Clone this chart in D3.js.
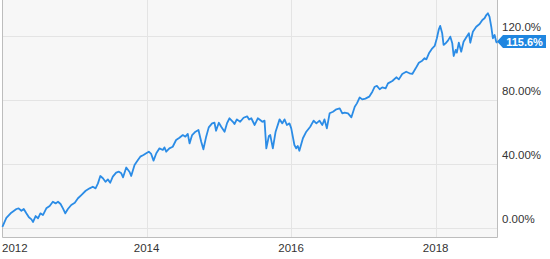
<!DOCTYPE html>
<html>
<head>
<meta charset="utf-8">
<script src="https://cdn.jsdelivr.net/npm/d3@7"></script>
<style>
  body { margin: 0; background: #fff; }
  svg { display: block; }
</style>
</head>
<body>
<div id="chart"></div>
<script>
// Datas (semanais aproximadas) e retorno acumulado em %
var dates = [
  "2012-01-03","2012-01-23","2012-02-17","2012-03-14","2012-03-25","2012-04-08","2012-04-20","2012-05-03",
  "2012-05-16","2012-05-29","2012-06-06","2012-06-19","2012-07-01","2012-07-13","2012-07-26","2012-08-12",
  "2012-08-29","2012-09-14","2012-09-28","2012-10-10","2012-10-23","2012-11-04","2012-11-16","2012-11-29",
  "2012-12-16","2013-01-03","2013-01-19","2013-02-05","2013-02-27","2013-03-19","2013-04-04","2013-04-18",
  "2013-04-30","2013-05-12","2013-05-25","2013-06-07","2013-06-19","2013-07-01","2013-07-14","2013-07-31",
  "2013-08-14","2013-08-26","2013-09-04","2013-09-20","2013-10-07","2013-10-15","2013-11-01","2013-11-18",
  "2013-11-30","2013-12-16","2013-12-30","2014-01-12","2014-01-24","2014-02-05","2014-02-19","2014-03-07",
  "2014-03-24","2014-04-01","2014-04-10","2014-04-26","2014-05-13","2014-05-30","2014-06-16","2014-07-03",
  "2014-07-16","2014-07-28","2014-08-06","2014-08-19","2014-09-05","2014-09-20","2014-10-04","2014-10-15",
  "2014-10-29","2014-11-11","2014-11-28","2014-12-10","2014-12-18","2015-01-01","2015-01-13","2015-01-30",
  "2015-02-11","2015-02-24","2015-03-13","2015-03-21","2015-04-02","2015-04-19","2015-05-06","2015-05-24",
  "2015-06-03","2015-06-14","2015-07-01","2015-07-17","2015-07-29","2015-08-09","2015-08-20","2015-08-29",
  "2015-09-11","2015-09-18","2015-10-01","2015-10-15","2015-11-04","2015-11-18","2015-11-29","2015-12-11",
  "2015-12-24","2016-01-02","2016-01-18","2016-01-27","2016-02-04","2016-02-12","2016-03-01","2016-03-18",
  "2016-04-07","2016-04-24","2016-05-08","2016-05-24","2016-06-07","2016-06-18","2016-06-30","2016-07-14",
  "2016-07-31","2016-08-17","2016-09-03","2016-09-16","2016-09-28","2016-10-15","2016-11-01","2016-11-18",
  "2016-11-29","2016-12-13","2016-12-26","2017-01-11","2017-01-30","2017-02-15","2017-02-27","2017-03-10",
  "2017-03-24","2017-04-06","2017-04-23","2017-05-05","2017-05-27","2017-06-16","2017-06-29","2017-07-16",
  "2017-08-05","2017-08-22","2017-09-05","2017-09-22","2017-10-08","2017-10-25","2017-11-06","2017-11-15",
  "2017-11-28","2017-12-15","2017-12-27","2018-01-07","2018-01-17","2018-01-24","2018-02-03","2018-02-10",
  "2018-02-20","2018-03-04","2018-03-16","2018-03-26","2018-04-02","2018-04-12","2018-04-18","2018-04-28",
  "2018-05-10","2018-05-22","2018-06-05","2018-06-18","2018-06-25","2018-07-08","2018-07-25","2018-08-11",
  "2018-08-25","2018-09-05","2018-09-14","2018-09-22","2018-09-30","2018-10-09","2018-10-17","2018-10-26",
  "2018-11-03","2018-11-07"
];
var values = [
  0.8, 6.3, 9.6, 11.9, 12.3, 10.8, 11.9, 9.2,
  6.7, 5.4, 3.8, 7.5, 6.1, 9.2, 8.1, 12.3,
  13.8, 16.4, 15.4, 16.4, 15.0, 12.3, 9.2, 11.9,
  14.4, 15.8, 18.6, 20.6, 23.3, 24.8, 25.8, 24.8,
  27.9, 32.5, 31.1, 28.9, 30.4, 28.3, 32.1, 34.6,
  35.2, 34.2, 31.7, 37.8, 35.0, 32.5, 39.4, 42.5,
  44.6, 45.6, 46.7, 47.7, 46.3, 42.1, 46.7, 49.8,
  48.8, 50.4, 47.7, 49.8, 50.8, 55.0, 56.4, 58.1,
  57.1, 58.8, 52.9, 58.1, 60.2, 61.3, 53.9, 49.2,
  57.1, 62.9, 65.4, 65.8, 60.8, 65.8, 63.3, 60.2,
  65.4, 68.6, 66.4, 65.0, 67.9, 66.4, 68.9, 69.8,
  67.8, 68.6, 64.4, 68.6, 67.5, 66.4, 67.1, 49.8,
  57.5, 58.1, 49.8, 60.2, 67.9, 65.4, 67.9, 64.4,
  65.4, 62.3, 51.9, 49.8, 51.3, 48.3, 56.1, 60.2,
  63.3, 67.1, 65.4, 67.1, 64.4, 67.9, 62.3, 71.7,
  72.7, 74.2, 74.8, 71.7, 72.1, 71.7, 69.2, 75.8,
  77.9, 81.6, 80.4, 80.9, 82.1, 85.2, 88.3, 88.8,
  86.7, 87.9, 87.3, 90.4, 91.9, 94.2, 92.9, 96.3,
  97.7, 96.7, 96.3, 99.8, 103.3, 104.6, 106.1, 105.4,
  109.2, 112.3, 113.8, 118.6, 124.2, 126.3, 121.7, 114.4,
  115.4, 117.1, 119.6, 115.4, 107.5, 111.3, 109.6, 115.8,
  110.2, 116.4, 119.2, 121.7, 115.8, 122.7, 125.8, 127.5,
  130.0, 131.1, 133.1, 134.2, 132.1, 125.8, 118.6, 120.6,
  116.4, 115.6
];

// Eixos
var yTicks = [0, 40, 80, 120];
var yTickLabels = ["0.00%", "40.00%", "80.00%", "120.0%"];
var xTicks = ["2012-01-01", "2014-01-01", "2016-01-01", "2018-01-01"];
var lastLabel = "115.6%";

var w = 550, h = 259;
var plot = {left: 2, right: 497, top: 0, bottom: 237};

var parse = d3.timeParse("%Y-%m-%d");
var data = dates.map(function(d, i) { return {date: parse(d), value: values[i]}; });

var x = d3.scaleTime()
  .domain([parse("2012-01-01"), parse("2018-11-07")])
  .range([plot.left, plot.right]);

var y = d3.scaleLinear()
  .domain([-5.6, 142.5])
  .range([plot.bottom, plot.top]);

var svg = d3.select("#chart")
  .append("svg")
  .attr("width", w)
  .attr("height", h);

// fundo do grafico
svg.append("rect")
  .attr("x", plot.left)
  .attr("y", plot.top)
  .attr("width", plot.right - plot.left)
  .attr("height", plot.bottom - plot.top)
  .attr("fill", "#f7f7f7");

// grades horizontais
svg.selectAll(".hgrid")
  .data(yTicks)
  .enter()
  .append("line")
  .attr("x1", plot.left)
  .attr("x2", plot.right)
  .attr("y1", function(d) { return Math.round(y(d)) + 0.5; })
  .attr("y2", function(d) { return Math.round(y(d)) + 0.5; })
  .attr("stroke", "#e4e4e4")
  .attr("stroke-width", 1);

// grades verticais
svg.selectAll(".vgrid")
  .data(xTicks.slice(1))
  .enter()
  .append("line")
  .attr("x1", function(d) { return Math.round(x(parse(d))) + 0.5; })
  .attr("x2", function(d) { return Math.round(x(parse(d))) + 0.5; })
  .attr("y1", plot.top)
  .attr("y2", plot.bottom)
  .attr("stroke", "#e4e4e4")
  .attr("stroke-width", 1);

// bordas
svg.append("path")
  .attr("d", "M" + (plot.left + 0.5) + "," + plot.top + "V" + (plot.bottom + 0.5) +
    "H" + (plot.right + 0.5) + "V" + plot.top)
  .attr("fill", "none")
  .attr("stroke", "#bdbdbd")
  .attr("stroke-width", 1);

// linha
var line = d3.line()
  .x(function(d) { return x(d.date); })
  .y(function(d) { return y(d.value); });

svg.append("path")
  .datum(data)
  .attr("d", line)
  .attr("fill", "none")
  .attr("stroke", "#2b8ce6")
  .attr("stroke-width", 1.8)
  .attr("stroke-linejoin", "round");

// rotulos do eixo y
svg.selectAll(".ylab")
  .data(yTicks)
  .enter()
  .append("text")
  .attr("x", 502)
  .attr("y", function(d, i) { return y(d) - 5; })
  .text(function(d, i) { return yTickLabels[i]; })
  .attr("font-family", "Liberation Sans, Arial, sans-serif")
  .attr("font-size", "11.5px")
  .attr("fill", "#333");

// rotulos do eixo x
svg.selectAll(".xlab")
  .data(xTicks)
  .enter()
  .append("text")
  .attr("x", function(d, i) { return i == 0 ? plot.left : x(parse(d)); })
  .attr("y", 252)
  .attr("text-anchor", function(d, i) { return i == 0 ? "start" : "middle"; })
  .text(function(d) { return d.slice(0, 4); })
  .attr("font-family", "Liberation Sans, Arial, sans-serif")
  .attr("font-size", "11.5px")
  .attr("fill", "#333");

// etiqueta do ultimo valor
var last = data[data.length - 1];
var ly = y(last.value) - 1.5;
var tipX = x(last.date);
svg.append("path")
  .attr("d", "M" + tipX + "," + ly + "L" + (tipX + 6) + "," + (ly - 6.5) + "H546V" + (ly + 6.5) +
    "H" + (tipX + 6) + "Z")
  .attr("fill", "#1f86e0");

svg.append("text")
  .attr("x", 524.5)
  .attr("y", ly + 4)
  .attr("text-anchor", "middle")
  .text(lastLabel)
  .attr("font-family", "Liberation Sans, Arial, sans-serif")
  .attr("font-size", "11px")
  .attr("font-weight", "bold")
  .attr("fill", "#fff");
</script>
</body>
</html>
